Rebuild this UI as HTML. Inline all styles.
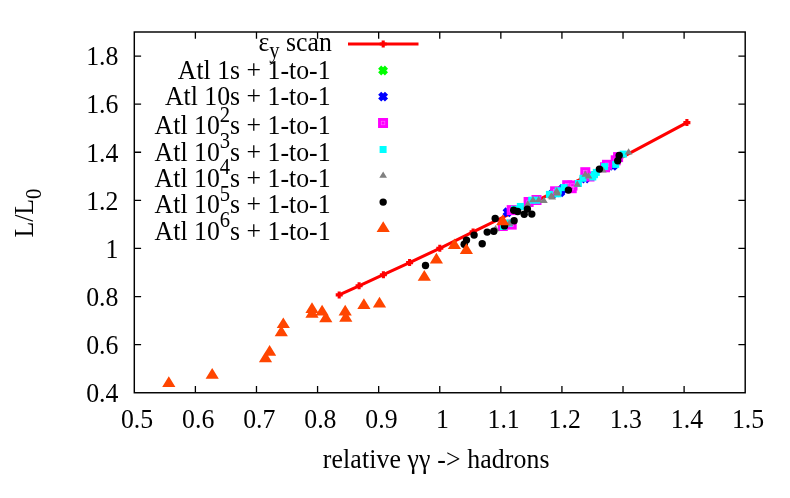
<!DOCTYPE html>
<html><head><meta charset="utf-8"><title>plot</title>
<style>html,body{margin:0;padding:0;background:#fff;}svg{display:block;will-change:transform;}text{font-family:"Liberation Serif",serif;fill:#000;}</style></head><body>
<svg width="790" height="498" viewBox="0 0 790 498">
<rect width="790" height="498" fill="#fff"/>
<g stroke="#000" stroke-width="1.3" fill="none">
<path d="M195.39 392.75 V385.95 M195.39 32.0 V38.80"/>
<path d="M256.48 392.75 V385.95 M256.48 32.0 V38.80"/>
<path d="M317.57 392.75 V385.95 M317.57 32.0 V38.80"/>
<path d="M378.66 392.75 V385.95 M378.66 32.0 V38.80"/>
<path d="M439.75 392.75 V385.95 M439.75 32.0 V38.80"/>
<path d="M500.84 392.75 V385.95 M500.84 32.0 V38.80"/>
<path d="M561.93 392.75 V385.95 M561.93 32.0 V38.80"/>
<path d="M623.02 392.75 V385.95 M623.02 32.0 V38.80"/>
<path d="M684.11 392.75 V385.95 M684.11 32.0 V38.80"/>
<path d="M134.3 344.65 H141.10 M745.2 344.65 H738.40"/>
<path d="M134.3 296.55 H141.10 M745.2 296.55 H738.40"/>
<path d="M134.3 248.45 H141.10 M745.2 248.45 H738.40"/>
<path d="M134.3 200.35 H141.10 M745.2 200.35 H738.40"/>
<path d="M134.3 152.25 H141.10 M745.2 152.25 H738.40"/>
<path d="M134.3 104.15 H141.10 M745.2 104.15 H738.40"/>
<path d="M134.3 56.05 H141.10 M745.2 56.05 H738.40"/>
</g>
<text transform="translate(137.10,428.20) scale(1,1.08)" font-size="25.8" text-anchor="middle">0.5</text>
<text transform="translate(198.19,428.20) scale(1,1.08)" font-size="25.8" text-anchor="middle">0.6</text>
<text transform="translate(259.28,428.20) scale(1,1.08)" font-size="25.8" text-anchor="middle">0.7</text>
<text transform="translate(320.37,428.20) scale(1,1.08)" font-size="25.8" text-anchor="middle">0.8</text>
<text transform="translate(381.46,428.20) scale(1,1.08)" font-size="25.8" text-anchor="middle">0.9</text>
<text transform="translate(442.55,428.20) scale(1,1.08)" font-size="25.8" text-anchor="middle">1</text>
<text transform="translate(503.64,428.20) scale(1,1.08)" font-size="25.8" text-anchor="middle">1.1</text>
<text transform="translate(564.73,428.20) scale(1,1.08)" font-size="25.8" text-anchor="middle">1.2</text>
<text transform="translate(625.82,428.20) scale(1,1.08)" font-size="25.8" text-anchor="middle">1.3</text>
<text transform="translate(686.91,428.20) scale(1,1.08)" font-size="25.8" text-anchor="middle">1.4</text>
<text transform="translate(748.00,428.20) scale(1,1.08)" font-size="25.8" text-anchor="middle">1.5</text>
<text transform="translate(118.40,402.05) scale(1,1.08)" font-size="25.8" text-anchor="end">0.4</text>
<text transform="translate(118.40,353.95) scale(1,1.08)" font-size="25.8" text-anchor="end">0.6</text>
<text transform="translate(118.40,305.85) scale(1,1.08)" font-size="25.8" text-anchor="end">0.8</text>
<text transform="translate(118.40,257.75) scale(1,1.08)" font-size="25.8" text-anchor="end">1</text>
<text transform="translate(118.40,209.65) scale(1,1.08)" font-size="25.8" text-anchor="end">1.2</text>
<text transform="translate(118.40,161.55) scale(1,1.08)" font-size="25.8" text-anchor="end">1.4</text>
<text transform="translate(118.40,113.45) scale(1,1.08)" font-size="25.8" text-anchor="end">1.6</text>
<text transform="translate(118.40,65.35) scale(1,1.08)" font-size="25.8" text-anchor="end">1.8</text>
<text transform="translate(436.20,467.80) scale(1,1.08)" font-size="25.8" text-anchor="middle"><tspan letter-spacing="0.12">relative γγ -&gt; hadrons</tspan></text>
<text transform="translate(32.70,213.10) rotate(-90) scale(1,1.08)" font-size="25.8" text-anchor="middle">L/L<tspan font-size="20.6" dy="7.5">0</tspan></text>
<text transform="translate(331.90,50.50) scale(1,1.08)" font-size="25.8" text-anchor="end">ε<tspan font-size="20.6" dy="6.6">y</tspan><tspan dy="-6.6"> scan</tspan></text>
<text transform="translate(330.60,78.80) scale(1,1.08)" font-size="25.8" text-anchor="end">Atl 1s + 1-to-1</text>
<text transform="translate(330.60,104.50) scale(1,1.08)" font-size="25.8" text-anchor="end">Atl 10s + 1-to-1</text>
<text transform="translate(330.60,134.10) scale(1,1.08)" font-size="25.8" text-anchor="end">Atl 10<tspan font-size="20.6" dy="-11.6">2</tspan><tspan dy="11.6">s + 1-to-1</tspan></text>
<text transform="translate(330.60,160.50) scale(1,1.08)" font-size="25.8" text-anchor="end">Atl 10<tspan font-size="20.6" dy="-11.6">3</tspan><tspan dy="11.6">s + 1-to-1</tspan></text>
<text transform="translate(330.60,186.80) scale(1,1.08)" font-size="25.8" text-anchor="end">Atl 10<tspan font-size="20.6" dy="-11.6">4</tspan><tspan dy="11.6">s + 1-to-1</tspan></text>
<text transform="translate(330.60,213.20) scale(1,1.08)" font-size="25.8" text-anchor="end">Atl 10<tspan font-size="20.6" dy="-11.6">5</tspan><tspan dy="11.6">s + 1-to-1</tspan></text>
<text transform="translate(330.60,239.50) scale(1,1.08)" font-size="25.8" text-anchor="end">Atl 10<tspan font-size="20.6" dy="-11.6">6</tspan><tspan dy="11.6">s + 1-to-1</tspan></text>
<g stroke="#ff0000" stroke-width="3.1" fill="none">
<polyline points="339.2,294.9 359.1,285.8 383.4,274.7 409.6,262.6 439.8,248.3 473.1,231.9 583,178.2 686.9,122.6"/>
<path d="M348 44 H418.5"/>
<path d="M335.70 294.90 H342.70 M339.20 291.40 V298.40 M355.60 285.80 H362.60 M359.10 282.30 V289.30 M379.90 274.70 H386.90 M383.40 271.20 V278.20 M406.10 262.60 H413.10 M409.60 259.10 V266.10 M436.30 248.30 H443.30 M439.80 244.80 V251.80 M469.60 231.90 H476.60 M473.10 228.40 V235.40 M579.50 178.20 H586.50 M583.00 174.70 V181.70 M683.40 122.60 H690.40 M686.90 119.10 V126.10 M379.70 44.00 H386.70 M383.20 40.50 V47.50"/>
</g>
<path stroke="#00ff00" stroke-width="4.4" fill="none" d="M379.65 67.10 L386.45 73.90 M379.65 73.90 L386.45 67.10"/>
<path stroke="#0000ff" stroke-width="4.4" fill="none" d="M379.70 93.20 L386.50 100.00 M379.70 100.00 L386.50 93.20 M504.10 208.80 L510.90 215.60 M504.10 215.60 L510.90 208.80 M549.40 190.20 L556.20 197.00 M549.40 197.00 L556.20 190.20 M556.90 188.90 L563.70 195.70 M556.90 195.70 L563.70 188.90 M559.40 185.40 L566.20 192.20 M559.40 192.20 L566.20 185.40 M581.90 175.10 L588.70 181.90 M581.90 181.90 L588.70 175.10 M609.60 162.50 L616.40 169.30 M609.60 169.30 L616.40 162.50"/>
<g fill="#ff00ff"><rect x="378.05" y="118.00" width="10" height="10"/><rect x="506.70" y="205.10" width="10" height="10"/><rect x="506.70" y="219.60" width="10" height="10"/><rect x="497.80" y="221.00" width="10" height="10"/><rect x="523.60" y="197.00" width="10" height="10"/><rect x="531.50" y="195.00" width="10" height="10"/><rect x="550.10" y="186.30" width="10" height="10"/><rect x="562.20" y="180.20" width="10" height="10"/><rect x="567.50" y="180.50" width="10" height="10"/><rect x="566.70" y="183.20" width="10" height="10"/><rect x="580.30" y="167.20" width="10" height="10"/><rect x="584.50" y="171.50" width="10" height="10"/><rect x="600.00" y="162.30" width="10" height="10"/><rect x="602.00" y="159.80" width="10" height="10"/><rect x="610.70" y="155.30" width="10" height="10"/><rect x="613.10" y="152.10" width="10" height="10"/></g>
<g fill="none" stroke="#ff66ff" stroke-width="0.7"><rect x="381.30" y="121.25" width="3.5" height="3.5"/><rect x="509.95" y="208.35" width="3.5" height="3.5"/><rect x="509.95" y="222.85" width="3.5" height="3.5"/><rect x="501.05" y="224.25" width="3.5" height="3.5"/><rect x="526.85" y="200.25" width="3.5" height="3.5"/><rect x="534.75" y="198.25" width="3.5" height="3.5"/><rect x="553.35" y="189.55" width="3.5" height="3.5"/><rect x="565.45" y="183.45" width="3.5" height="3.5"/><rect x="570.75" y="183.75" width="3.5" height="3.5"/><rect x="569.95" y="186.45" width="3.5" height="3.5"/><rect x="583.55" y="170.45" width="3.5" height="3.5"/><rect x="587.75" y="174.75" width="3.5" height="3.5"/><rect x="603.25" y="165.55" width="3.5" height="3.5"/><rect x="605.25" y="163.05" width="3.5" height="3.5"/><rect x="613.95" y="158.55" width="3.5" height="3.5"/><rect x="616.35" y="155.35" width="3.5" height="3.5"/></g>
<g fill="#00ffff"><rect x="379.60" y="146.00" width="7" height="7"/><rect x="516.85" y="202.95" width="7" height="7"/><rect x="511.00" y="205.80" width="7" height="7"/><rect x="500.00" y="223.00" width="7" height="7"/><rect x="505.40" y="219.60" width="7" height="7"/><rect x="528.20" y="196.70" width="7" height="7"/><rect x="533.30" y="196.70" width="7" height="7"/><rect x="545.90" y="190.90" width="7" height="7"/><rect x="554.30" y="190.30" width="7" height="7"/><rect x="554.70" y="187.30" width="7" height="7"/><rect x="560.60" y="184.10" width="7" height="7"/><rect x="574.90" y="180.00" width="7" height="7"/><rect x="579.40" y="174.80" width="7" height="7"/><rect x="589.30" y="173.50" width="7" height="7"/><rect x="591.00" y="171.20" width="7" height="7"/><rect x="592.80" y="168.90" width="7" height="7"/><rect x="601.10" y="163.10" width="7" height="7"/><rect x="612.20" y="160.90" width="7" height="7"/><rect x="619.80" y="150.60" width="7" height="7"/></g>
<path fill="#808080" d="M383.15 171.60 L379.30 177.84 L387.00 177.84 Z M495.60 225.10 L491.75 231.34 L499.45 231.34 Z M509.30 219.50 L505.45 225.74 L513.15 225.74 Z M527.80 200.20 L523.95 206.44 L531.65 206.44 Z M533.00 196.00 L529.15 202.24 L536.85 202.24 Z M538.70 196.00 L534.85 202.24 L542.55 202.24 Z M543.90 196.80 L540.05 203.04 L547.75 203.04 Z M551.30 192.30 L547.45 198.54 L555.15 198.54 Z M552.30 193.30 L548.45 199.54 L556.15 199.54 Z M556.75 187.30 L552.90 193.54 L560.60 193.54 Z M557.20 189.30 L553.35 195.54 L561.05 195.54 Z M577.30 180.50 L573.45 186.74 L581.15 186.74 Z M585.30 170.50 L581.45 176.74 L589.15 176.74 Z M588.50 172.30 L584.65 178.54 L592.35 178.54 Z M602.80 166.30 L598.95 172.54 L606.65 172.54 Z M628.60 148.30 L624.75 154.54 L632.45 154.54 Z"/>
<g fill="#000"><circle cx="383.15" cy="202.10" r="3.7"/><circle cx="425.50" cy="265.50" r="3.7"/><circle cx="466.50" cy="240.10" r="3.7"/><circle cx="464.20" cy="244.20" r="3.7"/><circle cx="474.10" cy="235.10" r="3.7"/><circle cx="482.20" cy="243.80" r="3.7"/><circle cx="487.20" cy="232.10" r="3.7"/><circle cx="493.80" cy="231.30" r="3.7"/><circle cx="495.20" cy="218.40" r="3.7"/><circle cx="504.50" cy="225.90" r="3.7"/><circle cx="514.10" cy="220.70" r="3.7"/><circle cx="513.70" cy="210.30" r="3.7"/><circle cx="517.70" cy="211.50" r="3.7"/><circle cx="524.20" cy="214.30" r="3.7"/><circle cx="527.40" cy="209.10" r="3.7"/><circle cx="531.80" cy="214.10" r="3.7"/><circle cx="568.40" cy="190.10" r="3.7"/><circle cx="599.40" cy="169.10" r="3.7"/><circle cx="617.70" cy="160.70" r="3.7"/><circle cx="619.20" cy="155.50" r="3.7"/></g>
<path fill="#ff4500" d="M383.20 221.20 L376.60 231.89 L389.80 231.89 Z M168.80 376.20 L162.20 386.89 L175.40 386.89 Z M212.20 368.00 L205.60 378.69 L218.80 378.69 Z M265.50 351.60 L258.90 362.29 L272.10 362.29 Z M269.60 345.00 L263.00 355.69 L276.20 355.69 Z M281.30 325.60 L274.70 336.29 L287.90 336.29 Z M283.30 317.40 L276.70 328.09 L289.90 328.09 Z M312.00 307.10 L305.40 317.79 L318.60 317.79 Z M312.00 302.30 L305.40 312.99 L318.60 312.99 Z M322.10 304.70 L315.50 315.39 L328.70 315.39 Z M325.80 311.60 L319.20 322.29 L332.40 322.29 Z M345.20 304.70 L338.60 315.39 L351.80 315.39 Z M345.80 311.10 L339.20 321.79 L352.40 321.79 Z M363.90 298.30 L357.30 308.99 L370.50 308.99 Z M379.50 296.80 L372.90 307.49 L386.10 307.49 Z M424.30 270.10 L417.70 280.79 L430.90 280.79 Z M436.40 252.80 L429.80 263.49 L443.00 263.49 Z M454.40 238.40 L447.80 249.09 L461.00 249.09 Z M466.40 243.20 L459.80 253.89 L473.00 253.89 Z M502.70 214.50 L496.10 225.19 L509.30 225.19 Z"/>
<rect x="134.3" y="32.0" width="610.90" height="360.75" fill="none" stroke="#000" stroke-width="1.45"/>
</svg></body></html>
